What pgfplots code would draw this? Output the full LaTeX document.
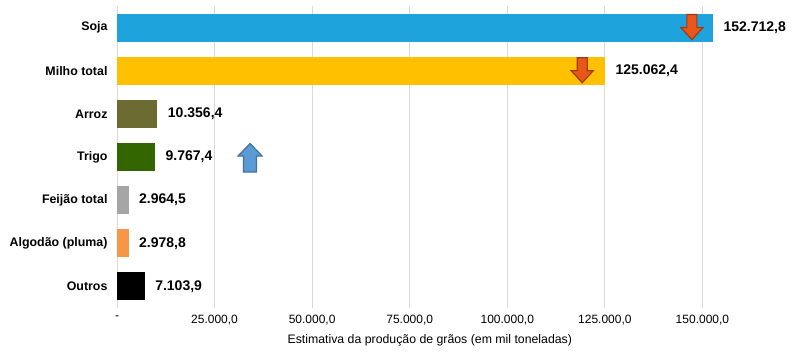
\documentclass[border=0pt]{standalone}
\usepackage{pgfplots}
\pgfplotsset{compat=1.18}
\usepackage{fontspec}
\setmainfont{Liberation Sans}
\definecolor{soja}{HTML}{1FA3DC}
\definecolor{milho}{HTML}{FFC000}
\definecolor{arroz}{HTML}{6B6B32}
\definecolor{trigo}{HTML}{336600}
\definecolor{feijao}{HTML}{A6A6A6}
\definecolor{algodao}{HTML}{F79646}
\definecolor{arrowred}{HTML}{E8561A}
\definecolor{arrowdark}{HTML}{A63A0E}
\definecolor{arrowblue}{HTML}{5B9BD5}
\definecolor{arrowbluedark}{HTML}{41719C}
\definecolor{gridc}{HTML}{D9D9D9}
\begin{document}
\begin{tikzpicture}
\useasboundingbox (-117pt,-55pt) rectangle (685pt,308pt);
\begin{axis}[
  at={(0,0)}, anchor=south west,
  scale only axis, width=683pt, height=302pt,
  xbar, bar width=28pt, bar shift=0pt,
  xmin=0, xmax=175000, ymin=-0.5, ymax=6.5, y dir=reverse,
  scaled x ticks=false,
  ytick={0,...,6},
  yticklabels={Soja, Milho total, Arroz, Trigo, Feijão total, Algodão (pluma), Outros},
  xtick={0,25000,50000,75000,100000,125000,150000},
  xticklabels={{-},{25.000,0},{50.000,0},{75.000,0},{100.000,0},{125.000,0},{150.000,0}},
  xmajorgrids, grid style={draw=gridc, line width=0.8pt},
  axis x line*=bottom, axis y line*=left, axis line style={-},
  x axis line style={draw=none}, y axis line style={draw=gridc, line width=0.8pt},
  major tick length=0pt,
  xticklabel style={font=\fontsize{12}{14}\selectfont, yshift=-4pt},
  yticklabel style={font=\bfseries\fontsize{12.4}{14}\selectfont, xshift=-6pt},
  xlabel={Estimativa da produção de grãos (em mil toneladas)},
  xlabel style={font=\fontsize{12.3}{14}\selectfont, at={(axis description cs:0.458,-0.108)}, anchor=center},
  /pgf/number format/assume math mode=true,
  nodes near coords,
  nodes near coords style={font=\bfseries\fontsize{14}{16}\selectfont, xshift=7pt, text=black},
  /pgf/number format/.cd, fixed, fixed zerofill, precision=1, use comma, 1000 sep={.},
]
\addplot[fill=soja, draw=none] coordinates {(152712.8,0)};
\addplot[fill=milho, draw=none] coordinates {(125062.4,1)};
\addplot[fill=arroz, draw=none] coordinates {(10356.4,2)};
\addplot[fill=trigo, draw=none] coordinates {(9767.4,3)};
\addplot[fill=feijao, draw=none] coordinates {(2964.5,4)};
\addplot[fill=algodao, draw=none] coordinates {(2978.8,5)};
\addplot[fill=black, draw=none] coordinates {(7103.9,6)};
\draw[fill=arrowred, draw=arrowdark, line width=1.2pt, shift={(axis cs:147300,0)}]
  (-5pt,13pt) -- (5pt,13pt) -- (5pt,0pt) -- (11pt,0pt) -- (0pt,-12pt) -- (-11pt,0pt) -- (-5pt,0pt) -- cycle;
\draw[fill=arrowred, draw=arrowdark, line width=1.2pt, shift={(axis cs:119200,1)}]
  (-5pt,13pt) -- (5pt,13pt) -- (5pt,0pt) -- (11pt,0pt) -- (0pt,-12pt) -- (-11pt,0pt) -- (-5pt,0pt) -- cycle;
\draw[fill=arrowblue, draw=arrowbluedark, line width=1.2pt, shift={(axis cs:34100,3)}]
  (-6.5pt,-15pt) -- (6.5pt,-15pt) -- (6.5pt,1pt) -- (12pt,1pt) -- (0pt,13.5pt) -- (-12pt,1pt) -- (-6.5pt,1pt) -- cycle;
\end{axis}
\end{tikzpicture}
\end{document}
